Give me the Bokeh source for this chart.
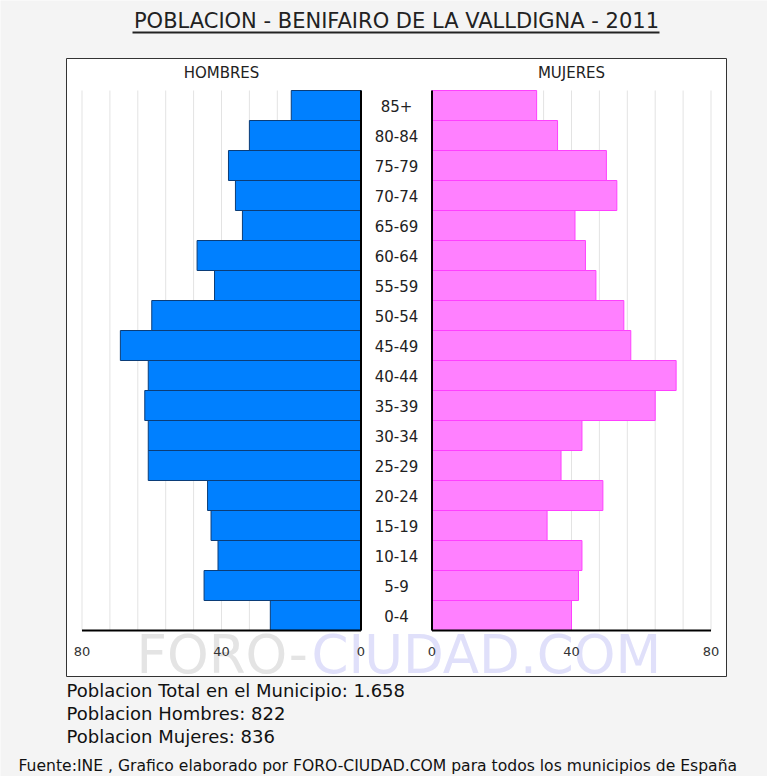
from bokeh.plotting import figure
from bokeh.models import Range1d, ColumnDataSource
from bokeh.core.properties import value
from bokeh.embed import file_html
from bokeh.resources import INLINE

# ---------------- data ----------------
age_groups = ["0-4", "5-9", "10-14", "15-19", "20-24", "25-29", "30-34", "35-39",
              "40-44", "45-49", "50-54", "55-59", "60-64", "65-69", "70-74",
              "75-79", "80-84", "85+"]
hombres = [26, 45, 41, 43, 44, 61, 61, 62, 61, 69, 60, 42, 47, 34, 36, 38, 32, 20]
mujeres = [40, 42, 43, 33, 49, 37, 43, 64, 70, 57, 55, 47, 44, 41, 53, 50, 36, 30]
tick_values = [0, 40, 80]
grid_values = [8, 16, 24, 32, 40, 48, 56, 64, 72, 80]
axis_max = 80

title_text = "POBLACION - BENIFAIRO DE LA VALLDIGNA - 2011"
footer_lines = ["Poblacion Total en el Municipio: 1.658",
                "Poblacion Hombres: 822",
                "Poblacion Mujeres: 836"]
source_text = "Fuente:INE , Grafico elaborado por FORO-CIUDAD.COM para todos los municipios de España"

# ---------------- layout constants (pixels) ----------------
FONT = "DejaVu Sans"
W, H = 767, 776
PX_PER_UNIT = 279 / 80.0
MALE0 = 360.5          # page x of male zero line
FEM0 = 431.5           # page x of female zero line
ROW_PX = 30
BARS_BOTTOM = 630      # page y of lower edge of first row
n = len(age_groups)


def xm(px):
    """page x -> male-axis data coordinate"""
    return (MALE0 - px) / PX_PER_UNIT


def ym(py):
    """page y -> row coordinate"""
    return -0.5 + (BARS_BOTTOM - py) / ROW_PX


idx = list(range(n))
src = ColumnDataSource(dict(y=idx, age=age_groups, h=hombres, m=mujeres,
                            zero=[0] * n))

p = figure(width=W, height=H,
           x_range=Range1d(xm(0), xm(W)),
           y_range=Range1d(ym(H), ym(0)),
           x_axis_type=None, y_axis_type=None,
           output_backend="svg", toolbar_location=None,
           min_border=0, outline_line_color=None,
           background_fill_color="#f4f4f4", border_fill_color="#f4f4f4")
p.extra_x_ranges = {"fem": Range1d(-FEM0 / PX_PER_UNIT, (W - FEM0) / PX_PER_UNIT)}

# white panel box
p.quad(left=[xm(66)], right=[xm(726)], top=[ym(58)], bottom=[ym(676)],
       fill_color="white", line_color="#333333", line_width=1)

# watermark
wm_y = ym(654)
p.text(x=[xm(136)], y=[wm_y], text=["FORO-"], text_font=value(FONT),
       text_font_size="53px", text_color="#e4e4e4",
       text_baseline="alphabetic", text_align="left")
p.text(x=[xm(311)], y=[wm_y], text=["CIUDAD.COM"], text_font=value(FONT),
       text_font_size="53px", text_color="#e0e0fa",
       text_baseline="alphabetic", text_align="left")

# grid lines
for rng in ("default", "fem"):
    p.segment(x0=grid_values, x1=grid_values, y0=[-0.5] * len(grid_values),
              y1=[n - 0.5] * len(grid_values), line_color="#e3e3e3", line_width=1,
              x_range_name=rng)

# bars
p.hbar(y="y", left="zero", right="h", height=1, source=src,
       fill_color="#0080ff", line_color="#0b3d78", line_width=1)
p.hbar(y="y", left="zero", right="m", height=1, source=src, x_range_name="fem",
       fill_color="#ff80ff", line_color="#ff40ff", line_width=1)

# axis lines
for rng in ("default", "fem"):
    p.segment(x0=[0, 0], x1=[axis_max, 0], y0=[-0.5, -0.5], y1=[-0.5, n - 0.5],
              line_color="black", line_width=2, x_range_name=rng)

# tick labels
for rng in ("default", "fem"):
    p.text(x=tick_values, y=[ym(651)] * len(tick_values),
           text=[str(v) for v in tick_values], text_font=value(FONT),
           text_font_size="13px", text_color="#333333", text_align="center",
           text_baseline="middle", x_range_name=rng)

# age labels
p.text(x=xm((MALE0 + FEM0) / 2), y="y", text="age", source=src,
       text_font=value(FONT), text_font_size="15px", text_color="#222222",
       text_align="center", text_baseline="middle")

# panel titles
p.text(x=[40], y=[ym(72)], text=["HOMBRES"], text_font=value(FONT),
       text_font_size="15px", text_color="#222222", text_align="center",
       text_baseline="middle")
p.text(x=[40], y=[ym(72)], text=["MUJERES"], text_font=value(FONT),
       text_font_size="15px", text_color="#222222", text_align="center",
       text_baseline="middle", x_range_name="fem")

# main title with underline
p.text(x=[xm(396)], y=[ym(20)], text=[title_text], text_font=value(FONT),
       text_font_size="21px", text_color="#222222", text_align="center",
       text_baseline="middle")
p.segment(x0=[xm(132)], x1=[xm(659)], y0=[ym(32)], y1=[ym(32)],
          line_color="#222222", line_width=2)

# footer
p.text(x=[xm(66)] * len(footer_lines), y=[ym(690 + 23 * i) for i in range(len(footer_lines))],
       text=footer_lines, text_font=value(FONT), text_font_size="18px",
       text_color="#111111", text_align="left", text_baseline="middle")
p.text(x=[xm(18)], y=[ym(765)], text=[source_text], text_font=value(FONT),
       text_font_size="15.6px", text_color="#111111", text_align="left",
       text_baseline="middle")

open("out.html", "w").write(file_html(p, INLINE))
